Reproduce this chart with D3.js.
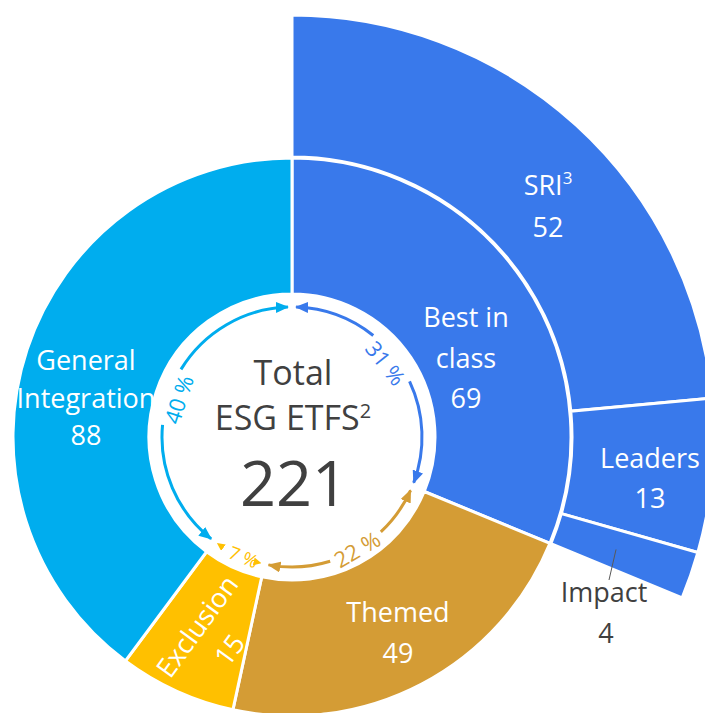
<!DOCTYPE html>
<html>
<head>
<meta charset="utf-8">
<script src="https://cdn.jsdelivr.net/npm/d3@7"></script>
<style>
  body { margin: 0; background: #fff; }
  svg { display: block; font-family: "Open Sans", "Noto Sans", sans-serif; }
</style>
</head>
<body>
<div id="chart"></div>
<script>
// inner ring: ETF approaches, clockwise from 12 o'clock
var categories = ["Best in class", "Themed", "Exclusion", "General Integration"];
var values = [69, 49, 15, 88];
var shares = ["31 %", "22 %", "7 %", "40 %"];
// outer ring: split of "Best in class"
var subCategories = ["SRI", "Leaders", "Impact"];
var subValues = [52, 13, 4];

var colors = {
	"Best in class": "#3979EB",
	"Themed": "#D49C35",
	"Exclusion": "#FFC000",
	"General Integration": "#00ADEE"
};

var width = 705, height = 713,
	cx = 292, cy = 437,
	holeR = 143, innerR = 279,
	outerR0 = 280, outerR1 = 422,
	arrowR = 130,
	deg = Math.PI / 180;

var svg = d3.select("#chart").append("svg")
	.attr("width", width)
	.attr("height", height);

var g = svg.append("g").attr("transform", "translate(" + cx + "," + cy + ")");

var total = d3.sum(values);

var pie = d3.pie().sort(null).value(function(d) { return d.value; });
var slices = pie(categories.map(function(c, i) { return {name: c, value: values[i], share: shares[i]}; }));

var arcInner = d3.arc().innerRadius(holeR).outerRadius(innerR);
var arcOuter = d3.arc().innerRadius(outerR0).outerRadius(outerR1);

// outer pieces share the angular range of "Best in class"
var best = slices[0];
var subScale = d3.scaleLinear().domain([0, d3.sum(subValues)]).range([best.startAngle, best.endAngle]);
var cum = d3.cumsum(subValues);
var subSlices = subCategories.map(function(c, i) {
	return {name: c, value: subValues[i], startAngle: subScale(cum[i] - subValues[i]), endAngle: subScale(cum[i])};
});

g.selectAll(".outer")
	.data(subSlices)
	.enter().append("path")
	.attr("class", "outer")
	.attr("d", arcOuter)
	.style("fill", colors["Best in class"])
	.style("stroke", "#fff")
	.style("stroke-width", 3);

g.selectAll(".inner")
	.data(slices)
	.enter().append("path")
	.attr("class", "inner")
	.attr("d", arcInner)
	.style("fill", function(d) { return colors[d.data.name]; })
	.style("stroke", "#fff")
	.style("stroke-width", 3);

// arrow markers, one per colour
var defs = svg.append("defs");
slices.forEach(function(d, i) {
	var small = d.data.value < 20;
	var w = small ? 8 : 13, h = small ? 8 : 11;
	defs.append("marker")
		.attr("id", "arr" + i)
		.attr("markerUnits", "userSpaceOnUse")
		.attr("markerWidth", w)
		.attr("markerHeight", h)
		.attr("refX", w - 1)
		.attr("refY", h / 2)
		.attr("orient", "auto-start-reverse")
		.append("path")
		.attr("d", "M0,0L" + w + "," + (h / 2) + "L0," + h + "Z")
		.style("fill", colors[d.data.name]);
});

// share labels sit on the arrow ring, turned along it
var shareAt = {"Best in class": 0.46, "Themed": 0.47, "Exclusion": 0.4, "General Integration": 0.5};
slices.forEach(function(d) {
	d.labelAngle = d.startAngle + (d.endAngle - d.startAngle) * shareAt[d.data.name];
});

var shareText = g.selectAll(".share")
	.data(slices)
	.enter().append("text")
	.attr("class", "share")
	.attr("transform", function(d) {
		var a = d.labelAngle;
		var flip = a > Math.PI / 2 && a < 1.5 * Math.PI;
		var r = flip ? arrowR - 1 : arrowR - 10;
		var x = r * Math.sin(a), y = -r * Math.cos(a);
		var rot = a / deg - (flip ? 180 : 0);
		return "translate(" + x + "," + y + ")rotate(" + rot + ")";
	})
	.attr("text-anchor", "middle")
	.attr("dominant-baseline", "central")
	.style("font-size", function(d) { return d.data.value < 20 ? "18px" : "22px"; })
	.style("fill", function(d) { return colors[d.data.name]; })
	.text(function(d) { return d.data.share; });

shareText.each(function(d) {
	d.halfGap = (this.getComputedTextLength() / 2 + 5) / arrowR;
});

var gap = 1.8 * deg;
function ringArc(a0, a1) {
	var p = d3.path();
	p.arc(0, 0, arrowR, a0 - Math.PI / 2, a1 - Math.PI / 2);
	return p.toString();
}

// each arrow is two pieces, broken where its label sits
var arrows = g.selectAll(".arrow")
	.data(slices)
	.enter().append("g")
	.attr("class", "arrow")
	.style("fill", "none")
	.style("stroke", function(d) { return colors[d.data.name]; })
	.style("stroke-width", function(d) { return d.data.value < 20 ? 0 : 3; });

arrows.append("path")
	.attr("d", function(d) { return ringArc(d.startAngle + gap, Math.max(d.startAngle + gap + 0.001, d.labelAngle - d.halfGap)); })
	.attr("marker-start", function(d, i) { return "url(#arr" + i + ")"; });

arrows.append("path")
	.attr("d", function(d) { return ringArc(Math.min(d.endAngle - gap - 0.001, d.labelAngle + d.halfGap), d.endAngle - gap); })
	.attr("marker-end", function(d, i) { return "url(#arr" + i + ")"; });

// centre
var centre = svg.append("g").attr("text-anchor", "middle").style("fill", "#404040");
centre.append("text").attr("x", 293).attr("y", 385).style("font-size", "34px").text("Total");
var esg = centre.append("text").attr("x", 293).attr("y", 430).style("font-size", "34px");
esg.append("tspan").text("ESG ETFS");
esg.append("tspan").attr("dy", -12).style("font-size", "20px").text("2");
centre.append("text").attr("x", 294).attr("y", 506).style("font-size", "63px").text(total);

// segment labels: [x, first baseline, line step]
var labelPos = {
	"Best in class": [466, 327, 40.5],
	"Themed": [398, 622, 41],
	"General Integration": [86, 370, 37.5],
	"SRI": [548, 195, 42],
	"Leaders": [650, 468, 40]
};
var labelLines = {
	"Best in class": ["Best in", "class"],
	"Themed": ["Themed"],
	"General Integration": ["General", "Integration"],
	"SRI": ["SRI"],
	"Leaders": ["Leaders"]
};
var labelled = slices.map(function(d) { return d.data; }).concat(subSlices)
	.filter(function(d) { return labelPos[d.name]; });

labelled.forEach(function(d) {
	var p = labelPos[d.name];
	var t = svg.append("text")
		.attr("text-anchor", "middle")
		.style("font-size", "27px")
		.style("fill", "#fff");
	var lines = labelLines[d.name].concat([String(d.value)]);
	lines.forEach(function(l, i) {
		t.append("tspan").attr("x", p[0]).attr("y", p[1] + i * p[2]).text(l);
		if (d.name === "SRI" && i === 0) {
			t.append("tspan").attr("dy", -11).style("font-size", "17px").text("3");
		}
	});
});

// Exclusion, turned along its slice
var excl = slices[2];
var ex = svg.append("text")
	.attr("transform", "translate(213,638)rotate(-54)")
	.attr("text-anchor", "middle")
	.style("font-size", "27px")
	.style("fill", "#fff");
ex.append("tspan").attr("x", 0).attr("y", -10).text(excl.data.name);
ex.append("tspan").attr("x", 0).attr("y", 30).text(excl.data.value);

// Impact sits outside with a leader line
var imp = subSlices[2];
var ia = (imp.startAngle + imp.endAngle) / 2;
svg.append("line")
	.attr("x1", 609).attr("y1", 580)
	.attr("x2", cx + 343 * Math.sin(ia)).attr("y2", cy - 343 * Math.cos(ia))
	.style("stroke", "#595959")
	.style("stroke-width", 1);
var it = svg.append("text")
	.attr("text-anchor", "middle")
	.style("font-size", "27px")
	.style("fill", "#404040");
it.append("tspan").attr("x", 604).attr("y", 602).text(imp.name);
it.append("tspan").attr("x", 606).attr("y", 643).text(imp.value);
</script>
</body>
</html>
